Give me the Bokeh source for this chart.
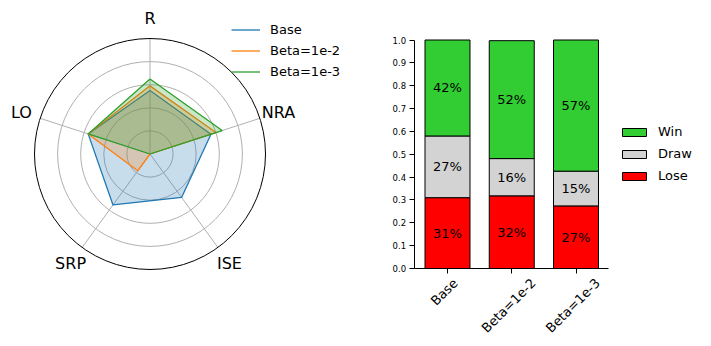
import numpy as np
from bokeh.plotting import figure
from bokeh.models import (Legend, LegendItem, Range1d, FixedTicker, LinearAxis,
                          PrintfTickFormatter, ColumnDataSource)
from bokeh.core.properties import value
from bokeh.embed import file_html
from bokeh.resources import INLINE

FONT = "DejaVu Sans"

# ---------------- data ----------------
radar_axes = ["R", "NRA", "ISE", "SRP", "LO"]
radar_base = [0.55, 0.555, 0.465, 0.545, 0.563]
radar_beta2 = [0.59, 0.60, 0.0, 0.18, 0.563]
radar_beta3 = [0.65, 0.657, 0.0, 0.0, 0.563]
radar_series = ["Base", "Beta=1e-2", "Beta=1e-3"]
radar_colors = ["#1f77b4", "#ff7f0e", "#2ca02c"]
radar_rings = [0.2, 0.4, 0.6, 0.8]

bar_categories = ["Base", "Beta=1e-2", "Beta=1e-3"]
bar_lose = [0.31, 0.318, 0.274]
bar_draw = [0.27, 0.163, 0.152]
bar_win = [0.42, 0.516, 0.574]
bar_yticks = [0.0, 0.1, 0.2, 0.3, 0.4, 0.5, 0.6, 0.7, 0.8, 0.9, 1.0]

W, H = 706, 342

# One canvas; radar uses the default ranges, bars use extra ranges.
p = figure(width=W, height=H, output_backend="svg", toolbar_location=None, title=None,
           x_range=Range1d(-1.2944, 4.8182), y_range=Range1d(-1.6320, 1.3290),
           x_axis_location=None, y_axis_location=None, min_border=0)
p.grid.visible = False
p.outline_line_color = None
p.extra_x_ranges = {"bx": Range1d(-6.9572, 4.0311)}
p.extra_y_ranges = {"by": Range1d(-0.32385, 1.17287)}

# ---------------- radar ----------------
n = len(radar_axes)
theta = np.pi / 2 - np.arange(n) * 2 * np.pi / n

p.circle(x=[0] * len(radar_rings), y=[0] * len(radar_rings), radius=radar_rings,
         fill_color=None, line_color="#b0b0b0", line_width=1)
p.segment(x0=[0] * n, y0=[0] * n, x1=np.cos(theta), y1=np.sin(theta),
          line_color="#b0b0b0", line_width=1)
p.circle(x=[0], y=[0], radius=[1.0], fill_color=None, line_color="black", line_width=1)

items = []
for name, vals, col in zip(radar_series, [radar_base, radar_beta2, radar_beta3], radar_colors):
    r = np.array(vals)
    xs = r * np.cos(theta)
    ys = r * np.sin(theta)
    p.patch(x=xs, y=ys, fill_color=col, fill_alpha=0.25, line_color=None)
    ln = p.line(x=np.append(xs, xs[0]), y=np.append(ys, ys[0]), line_color=col, line_width=1.3)
    items.append(LegendItem(label=name, renderers=[ln]))

lab_r = 1.17
p.text(x=lab_r * np.cos(theta), y=lab_r * np.sin(theta), text=radar_axes,
       text_align="center", text_baseline="middle", text_font=value(FONT),
       text_font_size="16px", text_color="black")

leg1 = Legend(items=items, location=(231, 262), glyph_width=29, glyph_height=17,
              label_height=17, spacing=4, padding=0, margin=0, label_standoff=10,
              border_line_alpha=0, background_fill_alpha=0, label_text_color="black",
              label_text_font=FONT, label_text_font_size="13px")
p.add_layout(leg1)

# ---------------- stacked bars ----------------
bar_pos = list(range(len(bar_categories)))
src = ColumnDataSource(dict(x=bar_pos, Lose=bar_lose, Draw=bar_draw, Win=bar_win))
rs = p.vbar_stack(["Lose", "Draw", "Win"], x="x", width=0.7, source=src,
                  fill_color=["#ff0000", "#d3d3d3", "#32cd32"], line_color="black",
                  line_width=1, x_range_name="bx", y_range_name="by")

lbl_x, lbl_y, lbl_t = [], [], []
for xi, l, d, w in zip(bar_pos, bar_lose, bar_draw, bar_win):
    for bottom, v in [(0, l), (l, d), (l + d, w)]:
        lbl_x.append(xi)
        lbl_y.append(bottom + v / 2)
        lbl_t.append(f"{round(v * 100)}%")
p.text(x=lbl_x, y=lbl_y, text=lbl_t, text_align="center", text_baseline="middle",
       text_font=value(FONT), text_font_size="13px", text_color="black",
       x_range_name="bx", y_range_name="by")

yax = LinearAxis(x_range_name="bx", y_range_name="by", fixed_location=-0.52,
                 bounds=(0, 1), ticker=FixedTicker(ticks=bar_yticks),
                 formatter=PrintfTickFormatter(format="%.1f"))
yax.major_label_text_font_size = "8.5px"
xax = LinearAxis(x_range_name="bx", y_range_name="by", fixed_location=0,
                 bounds=(-0.52, 2.51), ticker=FixedTicker(ticks=bar_pos),
                 major_label_overrides={i: "" for i in bar_pos})
for ax in (xax, yax):
    ax.minor_tick_line_color = None
    ax.major_label_text_font = FONT
    ax.major_label_text_color = "black"
    ax.axis_line_color = "black"
    ax.major_tick_line_color = "black"
    ax.major_tick_out = 5
    ax.major_tick_in = 0
    ax.major_label_standoff = 3
p.add_layout(yax, "left")
p.add_layout(xax, "below")

# rotated category labels (matplotlib-style: rotated box centred under the tick)
cat_src = ColumnDataSource(dict(x=bar_pos, y=[-7 / 228.5] * len(bar_pos), text=bar_categories,
                                xo=[2.77 * len(c) - 8.5 for c in bar_categories]))
p.text(x="x", y="y", text="text", source=cat_src, x_offset="xo", angle=np.pi / 4,
       text_align="right", text_baseline="top", text_font=value(FONT),
       text_font_size="13px", text_color="black", x_range_name="bx", y_range_name="by")

leg2 = Legend(items=[LegendItem(label="Win", renderers=[rs[2]]),
                     LegendItem(label="Draw", renderers=[rs[1]]),
                     LegendItem(label="Lose", renderers=[rs[0]])],
              location=(619, 158), glyph_width=30, glyph_height=10,
              label_height=17, spacing=5, padding=0, margin=0, label_standoff=9,
              border_line_alpha=0, background_fill_alpha=0, label_text_color="black",
              label_text_font=FONT, label_text_font_size="13px")
p.add_layout(leg2)

open("out.html", "w").write(file_html(p, INLINE))
